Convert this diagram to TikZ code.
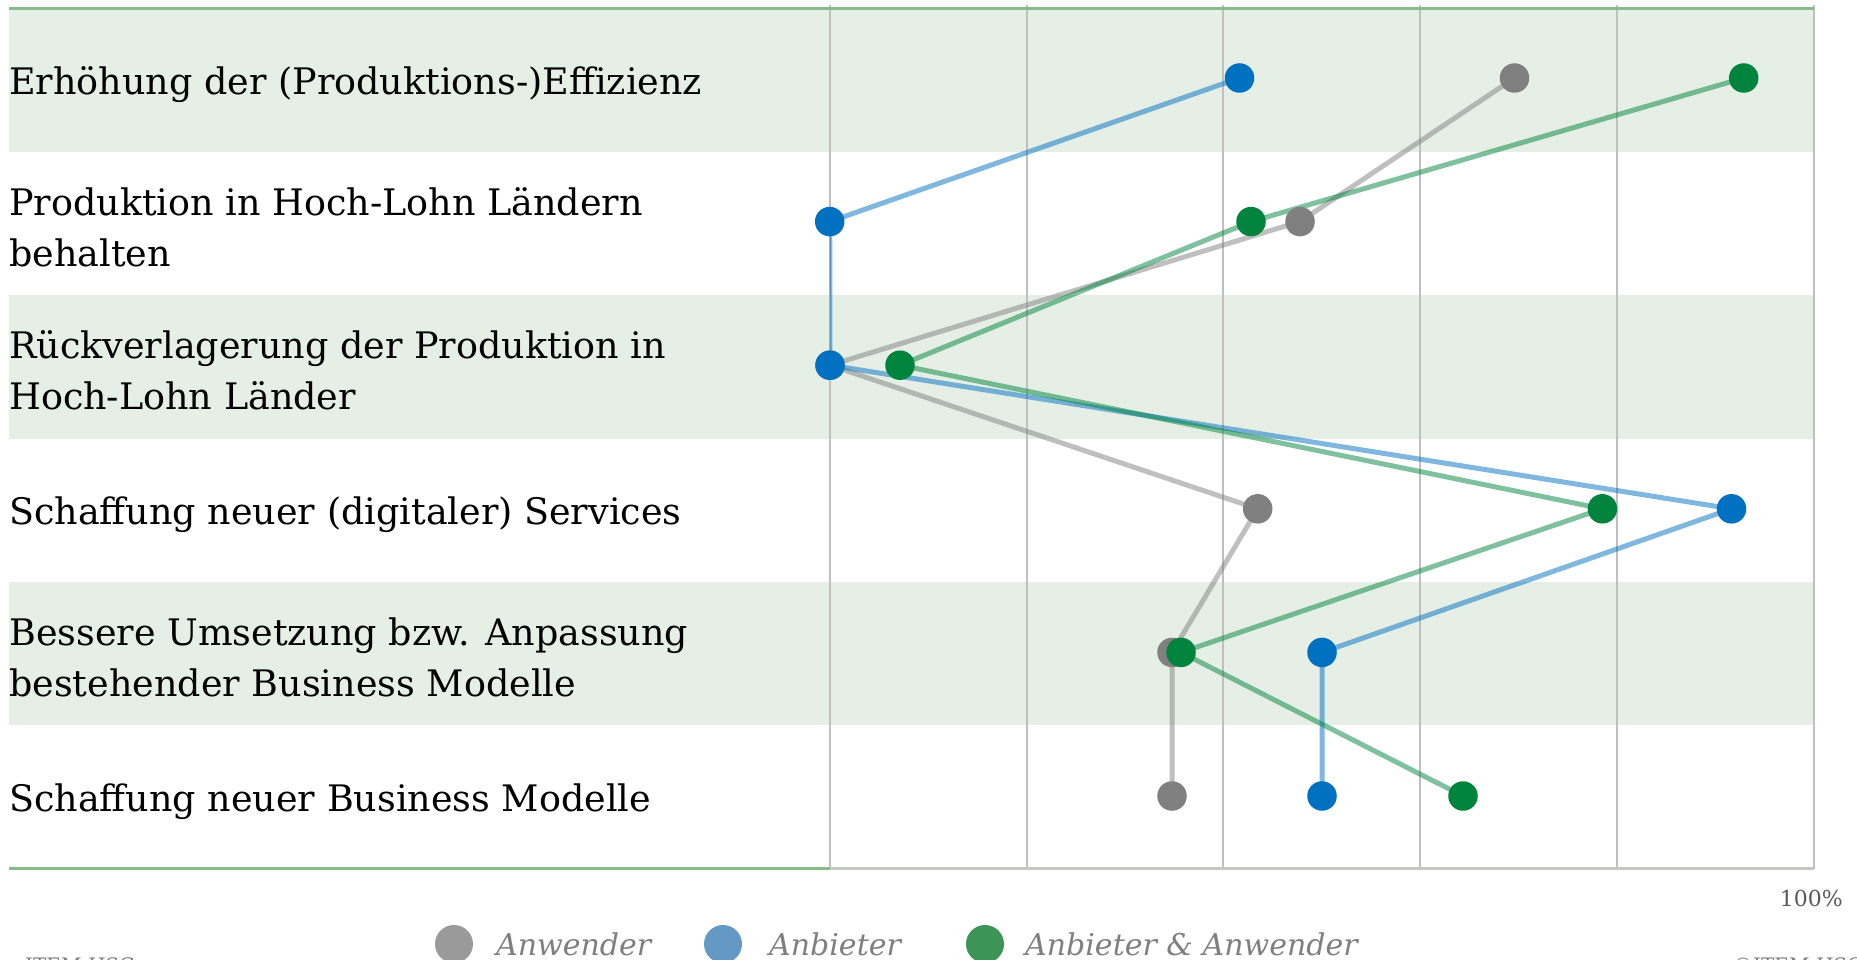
\documentclass[tikz,border=0pt]{standalone}
\usepackage{fontspec}
\setmainfont{DejaVu Serif}
\usetikzlibrary{positioning}
\pgfdeclarelayer{background}
\pgfsetlayers{background,main}

\definecolor{band}{HTML}{E5EFE5}
\definecolor{frame}{HTML}{88BB88}
\definecolor{grid}{HTML}{BFBFBF}
\definecolor{axis}{HTML}{C4C8C4}
\definecolor{cAnw}{HTML}{808080}
\definecolor{cAnb}{HTML}{0070C0}
\definecolor{cBoth}{HTML}{00843D}
\definecolor{lAnw}{HTML}{9A9A9A}
\definecolor{lAnb}{HTML}{6399C4}
\definecolor{lBoth}{HTML}{3C9456}
\definecolor{note}{HTML}{7F7F7F}
\definecolor{pct}{HTML}{595959}

\begin{document}
\begin{tikzpicture}[x=1pt,y=-1pt]
    % Define the styles
    \tikzset{rowlabel/.style={anchor=west, align=left, inner sep=0pt, font=\fontsize{36.5}{51}\selectfont}}
    \tikzset{dot/.style={circle, fill=#1, inner sep=0pt, minimum size=29.5pt}}
    \tikzset{series/.style={draw=#1, draw opacity=0.5, line width=5pt, line join=round}}
    \tikzset{legdot/.style={circle, fill=#1, inner sep=0pt, minimum size=38pt}}
    \tikzset{legtext/.style={anchor=base west, inner sep=0pt, text=note, font=\fontsize{30}{36}\selectfont\itshape}}
    \tikzset{foot/.style={anchor=base west, inner sep=0pt, text=note, font=\fontsize{20}{24}\selectfont}}

    \useasboundingbox (0,0) rectangle (1857,960);

    % Row labels
    \node[rowlabel] (r1) at (9, 85) {Erhöhung der (Produktions-)Effizienz};
    \node[rowlabel] (r2) at (9, 227) {Produktion in Hoch-Lohn Ländern\\behalten};
    \node[rowlabel] (r3) at (9, 370) {Rückverlagerung der Produktion in\\Hoch-Lohn Länder};
    \node[rowlabel] (r4) at (9, 515) {Schaffung neuer (digitaler) Services};
    \node[rowlabel] (r5) at (9, 657) {Bessere Umsetzung bzw. Anpassung\\bestehender Business Modelle};
    \node[rowlabel] (r6) at (9, 802) {Schaffung neuer Business Modelle};

    % Draw the points of the three series
    \foreach \x [count=\i] in {1514.5,1300,830,1257.7,1172,1172}
        \node[dot=cAnw] (aw\i) at (\x, {78+143.6*(\i-1)}) {};
    \foreach \x [count=\i] in {1239.5,829.7,830,1731.5,1322,1322}
        \node[dot=cAnb] (ab\i) at (\x, {78+143.6*(\i-1)}) {};
    \foreach \x [count=\i] in {1743.7,1251,900,1602.4,1181,1463}
        \node[dot=cBoth] (aa\i) at (\x, {78+143.6*(\i-1)}) {};

    \begin{pgfonlayer}{background}
        % Bands, grid and frame
        \foreach \r in {0,2,4}
            \fill[band] (9, {8.3+143.4*\r}) rectangle (1814, {8.3+143.4*(\r+1)});
        \foreach \i in {0,...,5}
            \draw[grid, line width=2pt] ({829.7+196.8*\i}, 5) -- ({829.7+196.8*\i}, 868.7);
        \draw[frame, line width=3pt] (9, 8.3) -- (1814, 8.3);
        \draw[frame, line width=3pt] (9, 868.7) -- (830, 868.7);
        \draw[axis, line width=3pt] (830, 868.7) -- (1814, 868.7);

        % Connect the points
        \begin{scope}
            \clip (829.7, 5) rectangle (1814, 868.7);
            \draw[series=cAnw] (aw1.center) -- (aw2.center) -- (aw3.center) -- (aw4.center) -- (aw5.center) -- (aw6.center);
            \draw[series=cAnb] (ab1.center) -- (ab2.center) -- (ab3.center) -- (ab4.center) -- (ab5.center) -- (ab6.center);
            \draw[series=cBoth] (aa1.center) -- (aa2.center) -- (aa3.center) -- (aa4.center) -- (aa5.center) -- (aa6.center);
        \end{scope}
    \end{pgfonlayer}

    % Axis label
    \node[anchor=base east, inner sep=0pt, text=pct, font=\fontsize{22}{26}\selectfont] (full) at (1843, 906.7) {100\%};

    % Legend
    \node[legdot=lAnw] (lg1) at (454, 944) {};
    \node[legtext] (lt1) at (496, 955) {Anwender};
    \node[legdot=lAnb] (lg2) at (723, 944) {};
    \node[legtext] (lt2) at (769, 955) {Anbieter};
    \node[legdot=lBoth] (lg3) at (985, 944) {};
    \node[legtext] (lt3) at (1025, 955) {Anbieter \& Anwender};

    % Footer (cut off at the bottom)
    \node[foot] (src) at (25, 972) {ITEM-HSG};
    \node[foot] (copy) at (1733, 972) {©ITEM-HSG};
\end{tikzpicture}
\end{document}
